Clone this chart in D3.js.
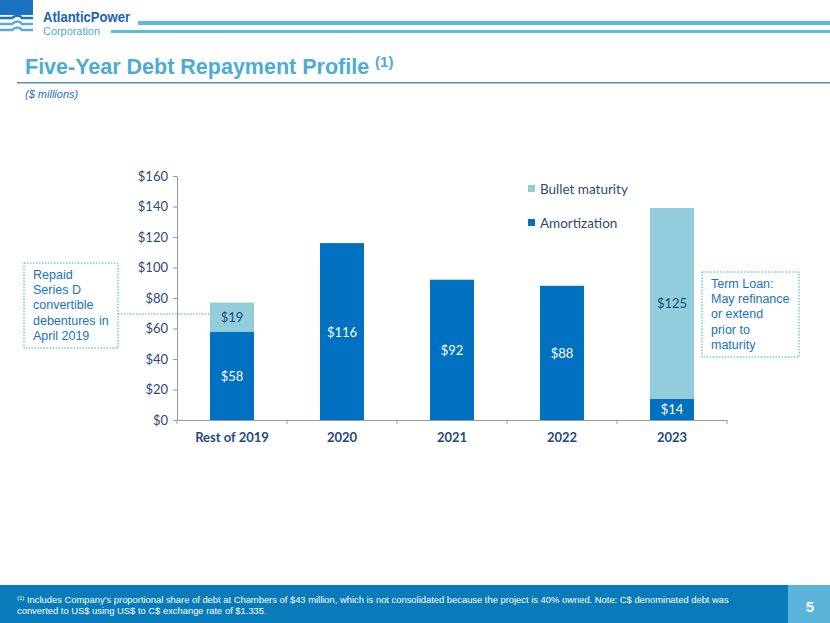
<!DOCTYPE html>
<html><head><meta charset="utf-8">
<script src="https://cdn.jsdelivr.net/npm/d3@7/dist/d3.min.js"></script>
<style>body{margin:0;background:#fff;}svg{display:block;}</style>
</head><body>
<svg id="c" width="830" height="623"></svg>
<script>
const categories = ["Rest of 2019", "2020", "2021", "2022", "2023"];
const amortization = [58, 116, 92, 88, 14];
const bullet = [19, 0, 0, 0, 125];
const seriesNames = ["Bullet maturity", "Amortization"];
const yTicks = [0, 20, 40, 60, 80, 100, 120, 140, 160];

const svg = d3.select("#c");
const chartFont = "Lato, 'Open Sans', sans-serif";
const arial = "'Liberation Sans', Arial, sans-serif";
const darkBlue = "#0070C0", lightBlue = "#92CDDC", labelCol = "#1F497D";

// Header logo
const logo = svg.append("g");
logo.append("rect").attr("x",0).attr("y",0).attr("width",33).attr("height",15).attr("fill","#1a72c2");
[18,24,30].forEach((y,i)=>{
  logo.append("path").attr("d",`M0 ${y} L12 ${y} Q18 ${y-5} 22 ${y} L33 ${y}`)
    .attr("stroke", i===0?"#1a72c2":"#5aa9e0").attr("stroke-width",2.5).attr("fill","none");
});
logo.append("text").attr("x",43).attr("y",22).attr("font-family",arial).attr("font-weight","bold")
  .attr("font-size",14).attr("fill","#1a62b8").attr("textLength",87).attr("lengthAdjust","spacingAndGlyphs").text("AtlanticPower");
logo.append("text").attr("x",43).attr("y",35).attr("font-family",arial)
  .attr("font-size",10.5).attr("fill","#4aa8dc").attr("textLength",57).attr("lengthAdjust","spacingAndGlyphs").text("Corporation");
svg.append("rect").attr("x",138).attr("y",21).attr("width",692).attr("height",4).attr("fill","#5BBCD9");
svg.append("rect").attr("x",111).attr("y",30).attr("width",719).attr("height",3).attr("fill","#5BBCD9");

// Title
const title = svg.append("text").attr("x",25).attr("y",74).attr("font-family",arial)
  .attr("font-weight","bold").attr("font-size",21.5).attr("fill","#4BACD6");
title.append("tspan").text("Five-Year Debt Repayment Profile ");
title.append("tspan").attr("font-size",15).attr("dy",-7).text("(1)");
svg.append("rect").attr("x",17).attr("y",82).attr("width",813).attr("height",1.5).attr("fill","#5f8fae");
svg.append("text").attr("x",25).attr("y",98).attr("font-family",arial).attr("font-style","italic")
  .attr("font-size",11).attr("fill","#1a72c2").text("($ millions)");

// Chart
const x = d3.scaleBand().domain(categories).range([177,727]).paddingInner(0.6).paddingOuter(0.3);
const y = d3.scaleLinear().domain([0,160]).range([420,176]);

const yAxis = svg.append("g").attr("transform","translate(177,0)")
  .call(d3.axisLeft(y).tickValues(yTicks).tickFormat(d=>"$"+d).tickSize(4).tickSizeOuter(0));
yAxis.select(".domain").attr("stroke","#9a9a9a");
yAxis.selectAll(".tick line").attr("stroke","#9a9a9a");
yAxis.selectAll("text").attr("font-family",chartFont).attr("font-size",13).attr("fill","#2c4a78").attr("dx",-2);

const xBand = d3.scaleBand().domain(categories).range([177,727]);
const xAxis = svg.append("g").attr("transform","translate(0,420)")
  .call(d3.axisBottom(xBand).tickSize(0).tickSizeOuter(0));
xAxis.select(".domain").attr("stroke","#9a9a9a");
xAxis.selectAll("text").attr("font-family",chartFont).attr("font-weight","bold").attr("font-size",13)
  .attr("fill","#1F497D").attr("dy","1.45em");
// band separator ticks
svg.append("g").selectAll("line").data(categories.concat(["end"])).join("line")
  .attr("x1",(d,i)=>177+i*xBand.step()).attr("x2",(d,i)=>177+i*xBand.step())
  .attr("y1",420).attr("y2",424).attr("stroke","#9a9a9a");

const g = svg.append("g");
categories.forEach((c,i)=>{
  const a = amortization[i], b = bullet[i];
  g.append("rect").attr("x",x(c)).attr("width",x.bandwidth()).attr("y",y(a)).attr("height",y(0)-y(a)).attr("fill",darkBlue);
  g.append("text").attr("x",x(c)+x.bandwidth()/2).attr("y",(y(a)+y(0))/2+5).attr("text-anchor","middle")
    .attr("font-family",chartFont).attr("font-size",13).attr("fill","#fff").text("$"+a);
  if (b>0){
    g.append("rect").attr("x",x(c)).attr("width",x.bandwidth()).attr("y",y(a+b)).attr("height",y(a)-y(a+b)).attr("fill",lightBlue);
    g.append("text").attr("x",x(c)+x.bandwidth()/2).attr("y",(y(a+b)+y(a))/2+5).attr("text-anchor","middle")
      .attr("font-family",chartFont).attr("font-size",13).attr("fill",labelCol).text("$"+b);
  }
});

// Legend
const leg = svg.append("g");
[[lightBlue,seriesNames[0],189],[darkBlue,seriesNames[1],223]].forEach(([col,name,yy])=>{
  leg.append("rect").attr("x",528).attr("y",yy-4).attr("width",7).attr("height",7).attr("fill",col);
  leg.append("text").attr("x",540).attr("y",yy+4.5).attr("font-family",chartFont).attr("font-size",13.5)
    .attr("fill","#2c4a78").text(name);
});

// Annotations
function note(x0,y0,w,h,lines){
  svg.append("rect").attr("x",x0).attr("y",y0).attr("width",w).attr("height",h).attr("fill","#fff")
    .attr("stroke","#2AB0EA").attr("stroke-width",1).attr("stroke-dasharray","1.5,1.5");
  const t = svg.append("text").attr("font-family",arial).attr("font-size",12.5).attr("fill","#1a72c2");
  lines.forEach((l,i)=>t.append("tspan").attr("x",x0+9).attr("y",y0+16+i*15.2).text(l));
}
svg.append("line").attr("x1",118).attr("x2",x(categories[0])).attr("y1",314).attr("y2",314)
  .attr("stroke","#2AB0EA").attr("stroke-dasharray","1.5,1.5");
note(24,263,94,85,["Repaid","Series D","convertible","debentures in","April 2019"]);
note(702,272,97,85,["Term Loan:","May refinance","or extend","prior to","maturity"]);

// Footer
svg.append("rect").attr("x",0).attr("y",585).attr("width",788).attr("height",38).attr("fill","#0A7BBA");
svg.append("rect").attr("x",788).attr("y",585).attr("width",42).attr("height",38).attr("fill","#5BB5DB");
svg.append("text").attr("x",810).attr("y",612).attr("text-anchor","middle").attr("font-family",arial)
  .attr("font-weight","bold").attr("font-size",15).attr("fill","#fff").text("5");
const fn = svg.append("text").attr("font-family",arial).attr("font-size",9.4).attr("fill","#fff");
const l1 = fn.append("tspan").attr("x",17).attr("y",603);
l1.append("tspan").attr("font-size",6).attr("dy",-3).text("(1)");
l1.append("tspan").attr("dy",3).text(" Includes Company\u2019s proportional share of debt at Chambers of $43 million, which is not consolidated because the project is 40% owned.  Note:  C$ denominated debt was");
fn.append("tspan").attr("x",17).attr("y",614).text("converted to US$ using  US$ to C$ exchange rate of $1.335.");
</script>
</body></html>
